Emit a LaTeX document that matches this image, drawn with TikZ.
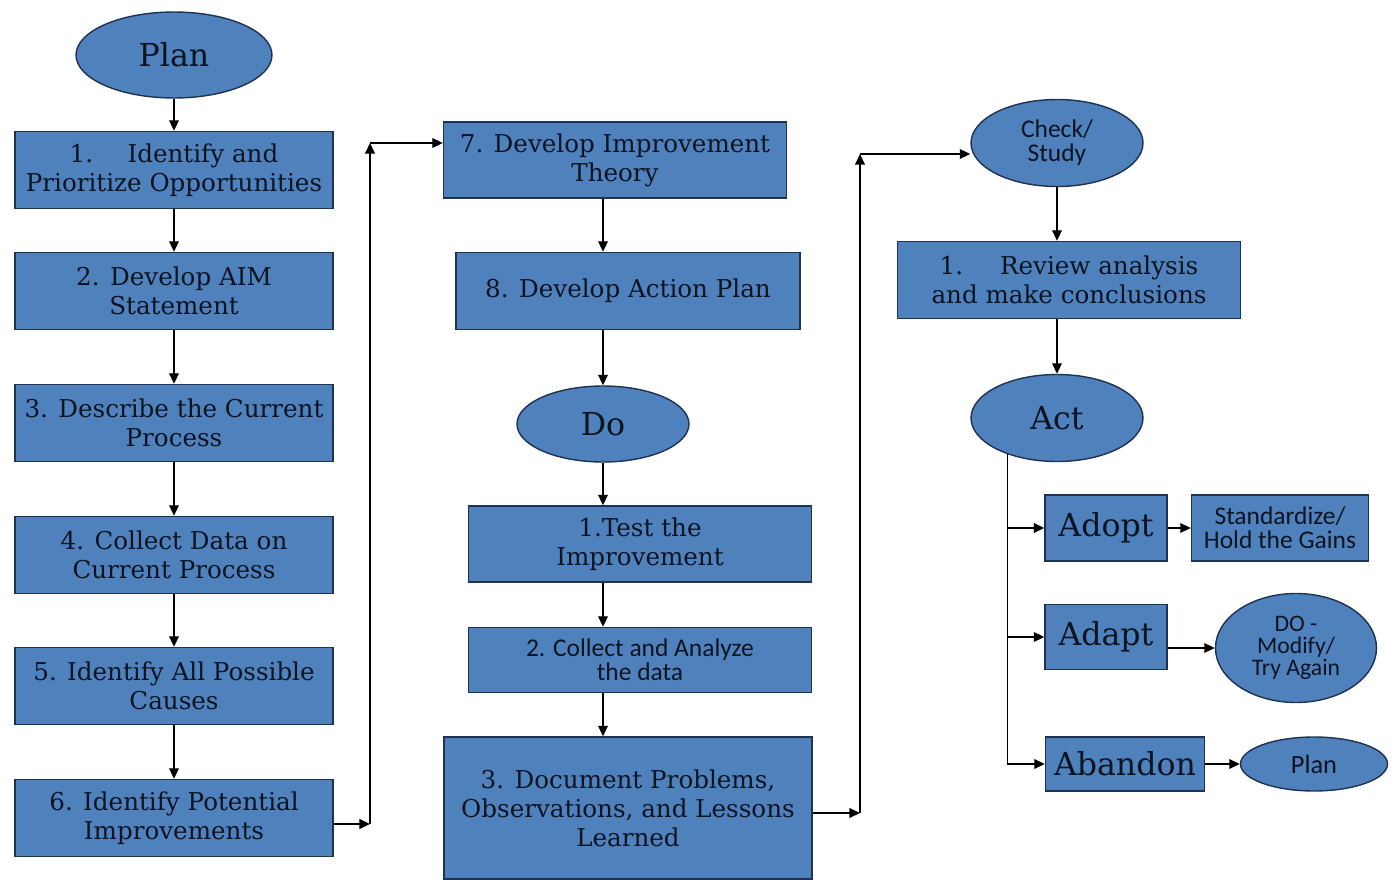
\documentclass[tikz,border=0pt]{standalone}
\usepackage{fontspec}
\setmainfont{DejaVu Serif}
\newfontfamily\calibri{Carlito}
\usetikzlibrary{positioning, arrows.meta, shapes.geometric}

\definecolor{boxblue}{RGB}{79,129,189}
\definecolor{boxedge}{RGB}{30,50,82}
\definecolor{ink}{RGB}{12,20,33}

\tikzset{
	block/.style={rectangle, draw=boxedge, fill=boxblue, line width=0.8pt, text=ink,
		align=center, inner sep=2pt, font=\fontsize{14}{16.5}\selectfont},
	phase/.style={ellipse, draw=boxedge, fill=boxblue, line width=0.8pt, text=ink,
		align=center, inner sep=0pt, font=\fontsize{18}{20}\selectfont},
	sans/.style={font=\calibri\fontsize{14.5}{13.5}\selectfont},
}

\begin{document}
\begin{tikzpicture}[x=0.02cm, y=-0.02cm, >={Triangle[length=6pt, width=5.5pt]}, line width=0.8pt]
	\useasboundingbox (0,0) rectangle (1397,889);

	% plan column
	\node[phase, minimum width=3.92cm, minimum height=1.72cm] (plan) at (174,55) {Plan};
	\node[block, minimum width=6.36cm, minimum height=1.54cm] (s1) at (174,170) {1.\hspace{1.4em}Identify and\\Prioritize Opportunities};
	\node[block, minimum width=6.36cm, minimum height=1.54cm] (s2) at (174,291) {2. Develop AIM\\Statement};
	\node[block, minimum width=6.36cm, minimum height=1.54cm] (s3) at (174,423) {3. Describe the Current\\Process};
	\node[block, minimum width=6.36cm, minimum height=1.54cm] (s4) at (174,555) {4. Collect Data on\\Current Process};
	\node[block, minimum width=6.36cm, minimum height=1.54cm] (s5) at (174,686) {5. Identify All Possible\\Causes};
	\node[block, minimum width=6.36cm, minimum height=1.54cm] (s6) at (174,818) {6. Identify Potential\\Improvements};

	% do column
	\node[block, minimum width=6.86cm, minimum height=1.52cm] (s7) at (615,160) {7. Develop Improvement\\Theory};
	\node[block, minimum width=6.88cm, minimum height=1.54cm] (s8) at (628,291) {8. Develop Action Plan};
	\node[phase, minimum width=3.44cm, minimum height=1.52cm] (do) at (603,424) {Do};
	\node[block, minimum width=6.86cm, minimum height=1.52cm] (d1) at (640,544) {1.Test the\\Improvement};
	\node[block, sans, minimum width=6.86cm, minimum height=1.3cm] (d2) at (640,660) {2. Collect and Analyze\\the data};
	\node[block, minimum width=7.36cm, minimum height=2.84cm] (d3) at (628,808) {3. Document Problems,\\Observations, and Lessons\\Learned};

	% check / act column
	\node[phase, sans, minimum width=3.44cm, minimum height=1.74cm] (check) at (1057,143) {Check/\\Study};
	\node[block, minimum width=6.86cm, minimum height=1.54cm] (review) at (1069,280) {1.\hspace{1.5em}Review analysis\\and make conclusions};
	\node[phase, minimum width=3.44cm, minimum height=1.74cm] (act) at (1057,418) {Act};
	\node[block, font=\fontsize{18}{20}\selectfont, minimum width=2.44cm, minimum height=1.32cm] (adopt) at (1106,528) {Adopt};
	\node[block, sans, minimum width=3.54cm, minimum height=1.32cm] (hold) at (1280,528) {Standardize/\\Hold the Gains};
	\node[block, font=\fontsize{18}{20}\selectfont, minimum width=2.44cm, minimum height=1.3cm] (adapt) at (1106,637) {Adapt};
	\node[phase, font=\calibri\fontsize{13.5}{12.5}\selectfont, minimum width=3.22cm, minimum height=2.18cm] (modify) at (1296,648) {DO -\\Modify/\\Try Again};
	\node[block, font=\fontsize{18}{20}\selectfont, minimum width=3.18cm, minimum height=1.08cm] (abandon) at (1125,764) {Abandon};
	\node[phase, font=\calibri\fontsize{15}{16}\selectfont, minimum width=2.94cm, minimum height=1.08cm] (replan) at (1314,764) {Plan};

	\coordinate (c0) at (370,824);
	\coordinate (c1) at (370,143);
	\coordinate (c2) at (860,813);
	\coordinate (c3) at (860,154);

	\path[->]
		(plan) edge (s1)
		(s1) edge (s2)
		(s2) edge (s3)
		(s3) edge (s4)
		(s4) edge (s5)
		(s5) edge (s6)
		(do |- s7.south) edge (do |- s8.north)
		(do |- s8.south) edge (do.north)
		(do.south) edge (do |- d1.north)
		(do |- d1.south) edge (do |- d2.north)
		(do |- d2.south) edge (do |- d3.north)
		(check.south) edge (check.south |- review.north)
		(act |- review.south) edge (act.north)
		(adopt) edge (hold)
		(adapt.east |- modify) edge (modify.west)
		(abandon) edge (replan)
	;

	% plan -> do
	\draw[->] (s6.east |- c0) -- (c0);
	\draw[->] (c0) -- (c1);
	\draw[->] (c1) -- (c1 -| s7.west);

	% do -> check
	\draw[->] (d3.east |- c2) -- (c2);
	\draw[->] (c2) -- (c3);
	\draw[->] (c3) -- (c3 -| check.west);

	% act branches
	\draw[->] (act.216) |- (abandon.west);
	\draw[->] (act.216 |- adopt) -- (adopt.west);
	\draw[->] (act.216 |- adapt) -- (adapt.west);
\end{tikzpicture}
\end{document}
